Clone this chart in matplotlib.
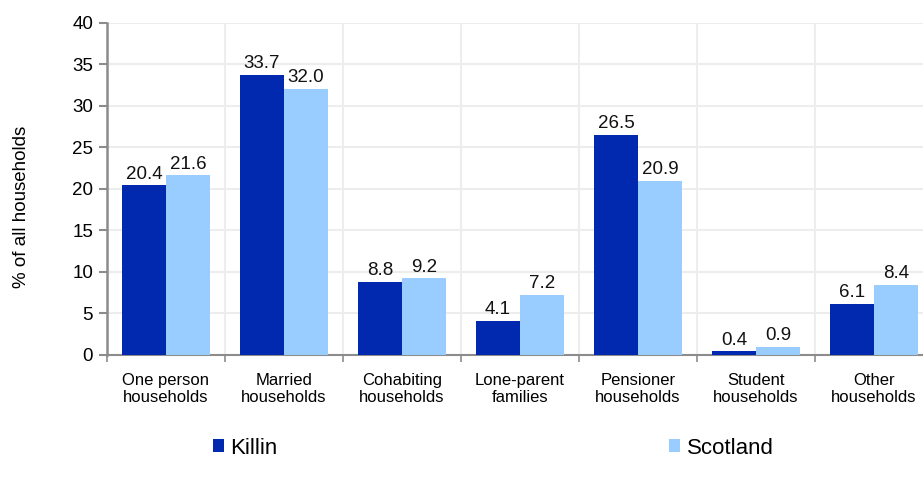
import matplotlib
matplotlib.use("Agg")
import matplotlib.pyplot as plt
from matplotlib.ticker import MultipleLocator, FixedLocator
import numpy as np

plt.rcParams['font.family'] = ['Liberation Sans', 'DejaVu Sans']

categories = ["One person\nhouseholds", "Married\nhouseholds", "Cohabiting\nhouseholds",
              "Lone-parent\nfamilies", "Pensioner\nhouseholds", "Student\nhouseholds",
              "Other\nhouseholds"]
killin = [20.4, 33.7, 8.8, 4.1, 26.5, 0.4, 6.1]
scotland = [21.6, 32.0, 9.2, 7.2, 20.9, 0.9, 8.4]
series_names = ["Killin", "Scotland"]

dark_blue = "#0029B0"
light_blue = "#99CCFF"
grid_col = "#EDEDED"
axis_col = "#8C8C8C"

fig = plt.figure(figsize=(9.23, 4.84), dpi=100)
ax = fig.add_axes([107 / 923, (484 - 354.7) / 484, 826 / 923, 332 / 484])

x = np.arange(len(categories))
w = 0.373
b1 = ax.bar(x - w / 2, killin, w, color=dark_blue, label=series_names[0], zorder=3)
b2 = ax.bar(x + w / 2, scotland, w, color=light_blue, label=series_names[1], zorder=3)

for bars, vals in ((b1, killin), (b2, scotland)):
    for r, v in zip(bars, vals):
        ax.annotate(f"{v:.1f}", (r.get_x() + r.get_width() / 2, v),
                    xytext=(0, 2), textcoords="offset points",
                    ha="center", va="bottom", fontsize=13.5, color="#111111")

ax.set_xlim(-0.5, len(categories) - 0.5)
ax.set_ylim(0, 40)
ax.yaxis.set_major_locator(MultipleLocator(5))

# category labels at centres, ticks and vertical grid at boundaries
ax.set_xticks(x)
ax.set_xticklabels(categories, fontsize=12, linespacing=1.15)
ax.tick_params(axis="x", which="major", length=0, pad=13)
ax.xaxis.set_minor_locator(FixedLocator(np.arange(-0.5, len(categories), 1.0)))
ax.tick_params(axis="x", which="minor", length=5, color=axis_col, width=1.2, direction="out")
ax.grid(True, which="minor", axis="x", color=grid_col, linewidth=1.5, zorder=0)
ax.grid(True, which="major", axis="y", color=grid_col, linewidth=1.5, zorder=0)

ax.tick_params(axis="y", length=6, color=axis_col, width=1.5, labelsize=13.5, pad=4)

for s in ("top", "right"):
    ax.spines[s].set_visible(False)
ax.spines["left"].set_color(axis_col)
ax.spines["left"].set_linewidth(1.8)
ax.spines["bottom"].set_color(axis_col)
ax.spines["bottom"].set_linewidth(1.5)

ax.set_ylabel("% of all households", fontsize=13.5, va="center")
ax.yaxis.set_label_coords(-0.103, 0.445)

leg = fig.legend(handles=[b1, b2], labels=series_names, loc="center",
                 bbox_to_anchor=(493 / 923, (484 - 448) / 484), ncol=2,
                 frameon=False, fontsize=16, handlelength=0.5, handleheight=0.5,
                 handletextpad=0.3, columnspacing=17.6)

fig.savefig("out.png", dpi=100)
